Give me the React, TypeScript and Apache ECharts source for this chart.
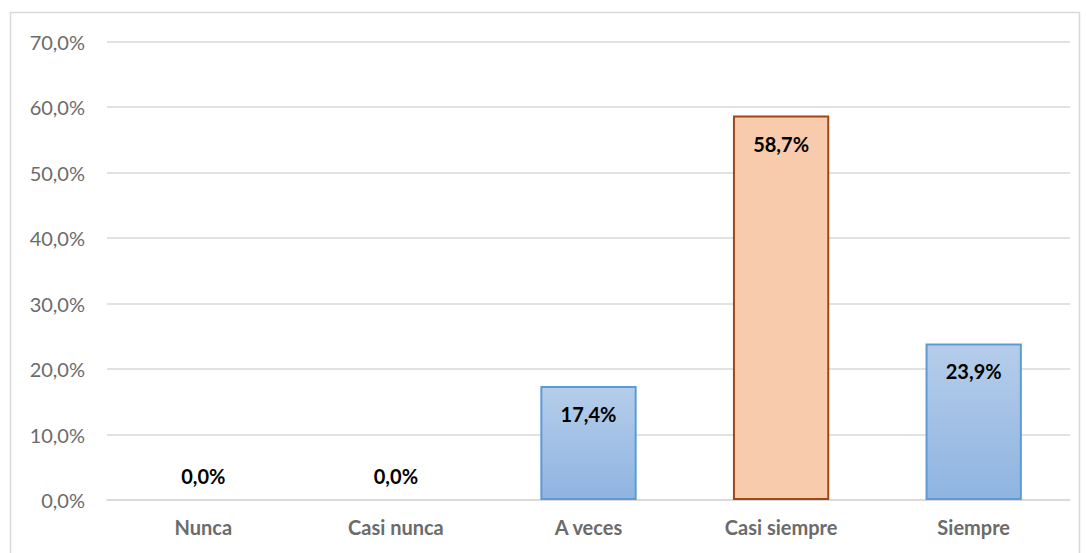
import React, { useEffect, useRef } from "react";
import * as echarts from "echarts";

const categories = ["Nunca", "Casi nunca", "A veces", "Casi siempre", "Siempre"];
const values = [0, 0, 17.4, 58.7, 23.9];
const highlightIndex = 3;

const fmt = (v: number) => v.toFixed(1).replace(".", ",") + "%";

export default function App() {
  const ref = useRef<HTMLDivElement>(null);
  useEffect(() => {
    const chart = echarts.init(ref.current!, undefined, { renderer: "svg" });
    const blue = new echarts.graphic.LinearGradient(0, 0, 0, 1, [
      { offset: 0, color: "#b5cdea" },
      { offset: 1, color: "#8fb4e1" },
    ]);
    chart.setOption({
      animation: false,
      graphic: [
        {
          type: "rect",
          left: 8,
          top: 10,
          shape: { width: 1069, height: 560 },
          style: { fill: "none", stroke: "#d9d9d9", lineWidth: 1.5 },
          silent: true,
        },
      ],
      grid: { left: 107, right: 16, top: 41.5, bottom: 53 },
      xAxis: {
        type: "category",
        data: categories,
        axisLine: { show: true, lineStyle: { color: "#d9d9d9", width: 1.5 } },
        axisTick: { show: false },
        axisLabel: {
          color: "#6b6b6b",
          fontFamily: "Lato",
          fontWeight: "bold",
          fontSize: 20,
          margin: 17,
        },
      },
      yAxis: {
        type: "value",
        min: 0,
        max: 70,
        interval: 10,
        axisLine: { show: false },
        axisTick: { show: false },
        splitLine: { lineStyle: { color: "#d9d9d9", width: 1.5 } },
        axisLabel: {
          color: "#6b6b6b",
          fontFamily: "Lato",
          fontSize: 20,
          margin: 22,
          formatter: (v: number) => fmt(v),
        },
      },
      series: [
        {
          type: "bar",
          barWidth: "50%",
          data: values.map((v, i) => ({
            value: v,
            itemStyle:
              i === highlightIndex
                ? { color: "#f8cbad", borderColor: "#a0471a", borderWidth: 2 }
                : v === 0
                ? { color: blue, borderWidth: 0 }
                : { color: blue, borderColor: "#5b9bd5", borderWidth: 2 },
            label:
              v === 0
                ? { position: "top", distance: 14 }
                : { position: "insideTop", distance: 18 },
          })),
          label: {
            show: true,
            color: "#000000",
            fontFamily: "Lato",
            fontWeight: "bold",
            fontSize: 20,
            formatter: (p: any) => fmt(p.value),
          },
        },
      ],
    });
    return () => chart.dispose();
  }, []);
  return <div ref={ref} style={{ width: 1086, height: 553, position: "absolute", left: 0, top: 0 }} />;
}
